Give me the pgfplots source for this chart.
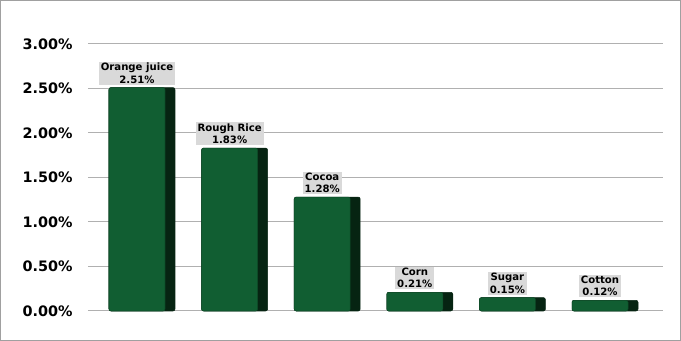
\documentclass[border=0pt]{standalone}
\usepackage{fontspec}
\setmainfont{DejaVu Sans}
\usepackage{pgfplots}
\pgfplotsset{compat=1.18}
\definecolor{barfront}{RGB}{17,94,50}
\definecolor{barside}{RGB}{6,36,18}
\definecolor{gridc}{RGB}{176,176,176}
\definecolor{framec}{RGB}{160,160,160}
\definecolor{labbg}{RGB}{217,217,217}
\begin{document}
\begin{tikzpicture}
\draw[framec,line width=0.75pt] (0.375pt,0.375pt) rectangle (510.375pt,255.375pt);
\begin{axis}[
  at={(66pt,22.5pt)}, anchor=south west,
  width=431.25pt, height=200.25pt, scale only axis,
  xmin=-0.529, xmax=5.68,
  ymin=0, ymax=3,
  axis line style={draw=none},
  xtick=\empty,
  ytick={0,0.5,1,1.5,2,2.5,3},
  yticklabels={0.00\%,0.50\%,1.00\%,1.50\%,2.00\%,2.50\%,3.00\%},
  major tick length=0pt,
  ymajorgrids,
  grid style={gridc,line width=0.75pt},
  yticklabel style={font=\bfseries\fontsize{10.8}{12}\selectfont, xshift=-8pt},
  clip=false,
]
\addplot[ybar, bar width=49.5pt, bar shift=3.75pt, fill=barside, draw=barside, line width=0.4pt, rounded corners=1.5pt]
  coordinates {(0,2.51) (1,1.83) (2,1.28) (3,0.21) (4,0.15) (5,0.12)};
\addplot[ybar, bar width=42pt, bar shift=0pt, fill=barfront, draw=barfront!80!black, line width=0.4pt, rounded corners=1.5pt,
  point meta=explicit symbolic,
  nodes near coords,
  every node near coord/.append style={fill=labbg, sharp corners, align=center, inner xsep=1.5pt, inner ysep=1pt, yshift=2pt,
     font=\bfseries\fontsize{7.6}{9.2}\selectfont, text=black}]
  coordinates {
   (0,2.51) [Orange juice\\2.51\%]
   (1,1.83) [Rough Rice\\1.83\%]
   (2,1.28) [Cocoa\\1.28\%]
   (3,0.21) [Corn\\0.21\%]
   (4,0.15) [Sugar\\0.15\%]
   (5,0.12) [Cotton\\0.12\%]
  };
\end{axis}
\end{tikzpicture}
\end{document}
